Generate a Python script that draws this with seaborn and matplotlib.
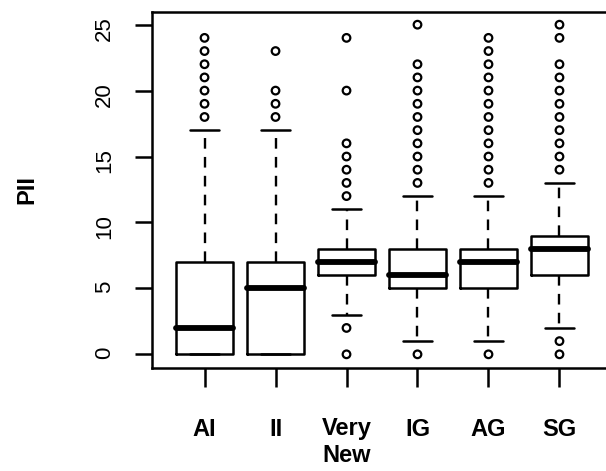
import numpy as np
import seaborn as sns
import pandas as pd
import matplotlib.pyplot as plt

# groups and box summaries
groups = ["AI", "II", "Very\nNew", "IG", "AG", "SG"]
q1 = [0, 0, 6, 5, 5, 6]
medians = [2, 5, 7, 6, 7, 8]
q3 = [7, 7, 8, 8, 8, 9]
whisker_lo = [0, 0, 3, 1, 1, 2]
whisker_hi = [17, 17, 11, 12, 12, 13]
outliers = [
    [18, 19, 20, 21, 22, 23, 24],
    [18, 19, 20, 23],
    [0, 2, 12, 13, 14, 15, 16, 20, 24],
    [0, 13, 14, 15, 16, 17, 18, 19, 20, 21, 22, 25],
    [0, 13, 14, 15, 16, 17, 18, 19, 20, 21, 22, 23, 24],
    [0, 1, 14, 15, 16, 17, 18, 19, 20, 21, 22, 24, 25],
]
yticks = [0, 5, 10, 15, 20, 25]

sns.set_style("ticks")
plt.rcParams["font.family"] = ["Liberation Sans", "DejaVu Sans"]

fig = plt.figure(figsize=(6.06, 4.71), dpi=100)
ax = fig.add_axes([152 / 606, 1 - 367.5 / 471, 460 / 606, 356 / 471])

pos = list(range(1, len(groups) + 1))
stats = []
for i, g in enumerate(groups):
    stats.append(dict(label=g, q1=q1[i], med=medians[i], q3=q3[i],
                      whislo=whisker_lo[i], whishi=whisker_hi[i], fliers=[]))

ax.bxp(stats, positions=pos, widths=0.8, showfliers=False,
       boxprops=dict(color="black", linewidth=1.8),
       medianprops=dict(color="black", linewidth=4.2, solid_capstyle="round"),
       whiskerprops=dict(color="black", linewidth=1.7, linestyle=(0, (4.5, 3.5))),
       capprops=dict(color="black", linewidth=1.8))

out = pd.DataFrame({
    "x": [pos[i] for i in range(len(groups)) for v in outliers[i]],
    "y": [v for i in range(len(groups)) for v in outliers[i]],
})
sns.scatterplot(data=out, x="x", y="y", ax=ax, marker="o", s=30,
                facecolors="none", edgecolor="black", linewidth=1.6, legend=False)

ax.set_xlim(0.26, 6.74)
ax.set_ylim(-1, 26)
ax.set_xticks(pos)
ax.set_xticklabels(groups, fontsize=17, fontweight="bold", linespacing=1.2)
ax.set_yticks(yticks)
ax.set_yticklabels([str(t) for t in yticks], fontsize=16)
ax.tick_params(axis="y", length=12.5, width=1.8, pad=14, labelrotation=90,
               color="black", labelcolor="black")
ax.tick_params(axis="x", length=13.5, width=1.8, pad=22.5,
               color="black", labelcolor="black")
for s in ax.spines.values():
    s.set_color("black")
    s.set_linewidth(1.8)

ax.set_xlabel("")
ax.set_ylabel("PII", fontsize=17, fontweight="bold", color="black")
ax.yaxis.set_label_coords(-0.248, 0.5)

fig.savefig("out.png", dpi=100)
